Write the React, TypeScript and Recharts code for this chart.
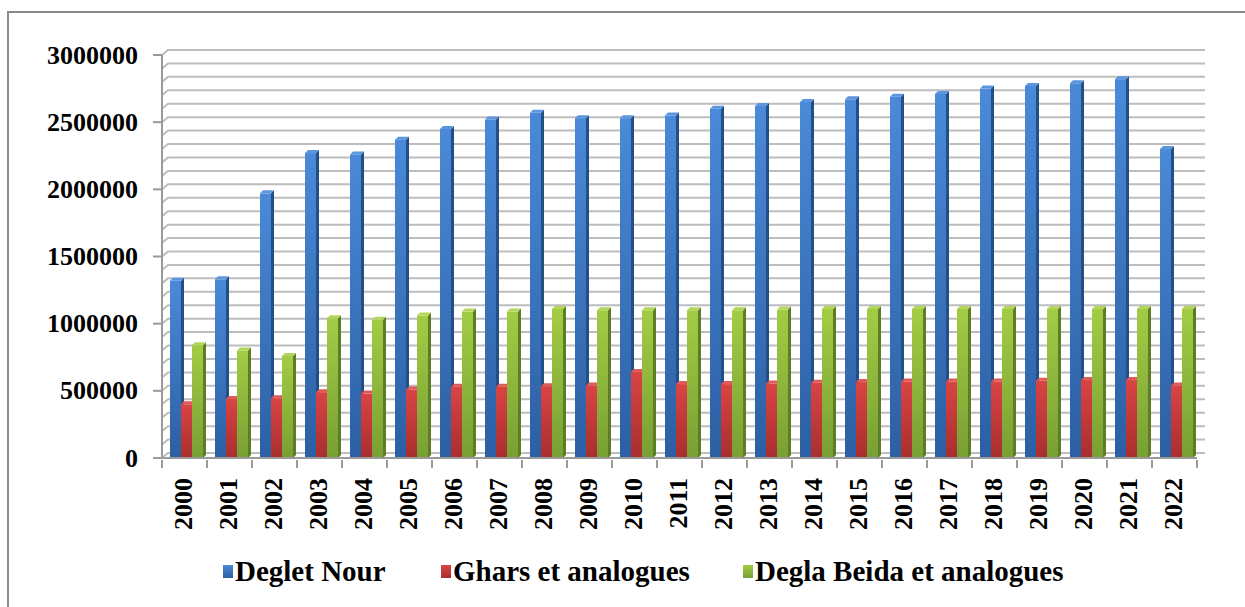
import { BarChart, Bar, XAxis, YAxis, CartesianGrid } from 'recharts';

const YEARS = [
  '2000', '2001', '2002', '2003', '2004', '2005', '2006', '2007', '2008', '2009', '2010', '2011',
  '2012', '2013', '2014', '2015', '2016', '2017', '2018', '2019', '2020', '2021', '2022',
];

// Deglet Nour
const DEGLET_NOUR = [
  1320000, 1330000, 1970000, 2270000, 2260000, 2370000, 2450000, 2520000, 2570000, 2530000, 2530000, 2550000,
  2600000, 2620000, 2650000, 2670000, 2690000, 2710000, 2750000, 2770000, 2790000, 2820000, 2300000,
];

// Ghars et analogues
const GHARS = [
  400000, 440000, 445000, 490000, 480000, 510000, 530000, 530000, 535000, 540000, 640000, 550000,
  550000, 555000, 560000, 565000, 570000, 570000, 570000, 575000, 580000, 580000, 540000,
];

// Degla Beida et analogues
const DEGLA_BEIDA = [
  840000, 800000, 760000, 1040000, 1030000, 1060000, 1090000, 1090000, 1110000, 1100000, 1100000, 1100000,
  1100000, 1105000, 1110000, 1110000, 1110000, 1110000, 1110000, 1110000, 1110000, 1110000, 1110000,
];

const Y_LABELS = [0, 500000, 1000000, 1500000, 2000000, 2500000, 3000000];
const Y_GRID = Array.from({ length: 31 }, (_, i) => i * 100000);

const SERIES = [
  { key: 'deglet', name: 'Deglet Nour', top: '#4a8ad8', bottom: '#2c5fa3', side: '#234e86', cap: '#5b96de', lx: 223 },
  { key: 'ghars', name: 'Ghars et analogues', top: '#d94444', bottom: '#a82e2e', side: '#8a2424', cap: '#e05a5a', lx: 441 },
  { key: 'beida', name: 'Degla Beida et analogues', top: '#a3cc45', bottom: '#789f33', side: '#5e7e26', cap: '#b2d65a', lx: 743 },
];

const data = YEARS.map((year, i) => ({
  year,
  deglet: DEGLET_NOUR[i],
  ghars: GHARS[i],
  beida: DEGLA_BEIDA[i],
}));

const FONT = '"Liberation Serif", "Times New Roman", serif';
const AXIS = '#9a9a9a';
const GRID = '#bdbdbd';
const BAND = 45;
const DX = 6;
const DY = 5;

function make3DBar(s: typeof SERIES[number]) {
  return (props: any) => {
    const { x, y, width, height } = props;
    if (!height || height <= 0) return <g />;
    const d = 3;
    const x0 = x + 2;
    return (
      <g>
        <rect x={x0} y={y} width={width} height={height} fill={`url(#grad-${s.key})`} />
        <polygon
          points={`${x0 + width},${y} ${x0 + width + d},${y - d} ${x0 + width + d},${y + height - d} ${x0 + width},${y + height}`}
          fill={s.side}
        />
        <polygon
          points={`${x0},${y} ${x0 + d},${y - d} ${x0 + width + d},${y - d} ${x0 + width},${y}`}
          fill={s.cap}
        />
      </g>
    );
  };
}

function GridLine(props: any) {
  const { x1, x2, y1 } = props;
  return (
    <path
      d={`M${x1},${y1} L${x1 + DX},${y1 - DY} L${x2 + DX + 2},${y1 - DY}`}
      stroke={GRID}
      strokeWidth={2}
      fill="none"
    />
  );
}

function YTick(props: any) {
  const { x, y, payload } = props;
  if (!Y_LABELS.includes(payload.value)) return <g />;
  return (
    <g>
      <line x1={x - 1} x2={x + 8} y1={y} y2={y} stroke={AXIS} strokeWidth={2} />
      <text x={x - 16} y={y} textAnchor="end" dominantBaseline="central"
        fontFamily={FONT} fontWeight="bold" fontSize={26} fill="#000">
        {payload.value}
      </text>
    </g>
  );
}

function XTick(props: any) {
  const { x, y, payload, index } = props;
  return (
    <g>
      <line x1={x - BAND / 2} x2={x - BAND / 2} y1={y - 8} y2={y} stroke={AXIS} strokeWidth={2} />
      {index === YEARS.length - 1 && (
        <line x1={x + BAND / 2} x2={x + BAND / 2} y1={y - 8} y2={y} stroke={AXIS} strokeWidth={2} />
      )}
      <text
        x={x - 1}
        y={y + 10}
        transform={`rotate(-90, ${x - 1}, ${y + 10})`}
        textAnchor="end"
        dominantBaseline="central"
        fontFamily={FONT}
        fontWeight="bold"
        fontSize={26}
        fill="#000"
      >
        {payload.value}
      </text>
    </g>
  );
}

export default function App() {
  return (
    <div style={{ position: 'absolute', left: 0, top: 0, width: 1245, height: 607, background: '#fff', overflow: 'hidden' }}>
      <div style={{ position: 'absolute', left: 7, top: 11, right: -10, bottom: -10, borderLeft: '2px solid #8a8a8a', borderTop: '2px solid #8a8a8a' }} />
      <div style={{ position: 'absolute', left: 0, top: 0 }}>
        <BarChart
          width={1245}
          height={607}
          data={data}
          margin={{ top: 55, right: 48, left: 0, bottom: 59 }}
          barGap={0}
          barSize={11}
        >
          <defs>
            {SERIES.map((s) => (
              <linearGradient key={s.key} id={`grad-${s.key}`} x1="0" y1="0" x2="0" y2="1">
                <stop offset="0%" stopColor={s.top} />
                <stop offset="100%" stopColor={s.bottom} />
              </linearGradient>
            ))}
          </defs>
          <CartesianGrid vertical={false} horizontal={(p: any) => <GridLine key={p.key} {...p} />} />
          <YAxis
            width={162}
            domain={[0, 3000000]}
            ticks={Y_GRID}
            interval={0}
            tick={<YTick />}
            tickLine={false}
            axisLine={{ stroke: AXIS, strokeWidth: 2 }}
          />
          <XAxis
            dataKey="year"
            height={90}
            interval={0}
            tick={<XTick />}
            tickLine={false}
            tickSize={8}
            axisLine={{ stroke: AXIS, strokeWidth: 2 }}
          />
          {SERIES.map((s) => (
            <Bar key={s.key} dataKey={s.key} name={s.name} fill={s.top} shape={make3DBar(s)} isAnimationActive={false} />
          ))}
        </BarChart>
      </div>
      {SERIES.map((s) => (
        <div key={s.key} style={{ position: 'absolute', top: 555, left: s.lx, display: 'flex', alignItems: 'center', fontFamily: FONT, fontWeight: 'bold', fontSize: 29, color: '#000', whiteSpace: 'nowrap' }}>
          <span style={{ display: 'inline-block', width: 10, height: 13, marginRight: 2, background: `linear-gradient(${s.top}, ${s.bottom})` }} />
          <span>{s.name}</span>
        </div>
      ))}
    </div>
  );
}
